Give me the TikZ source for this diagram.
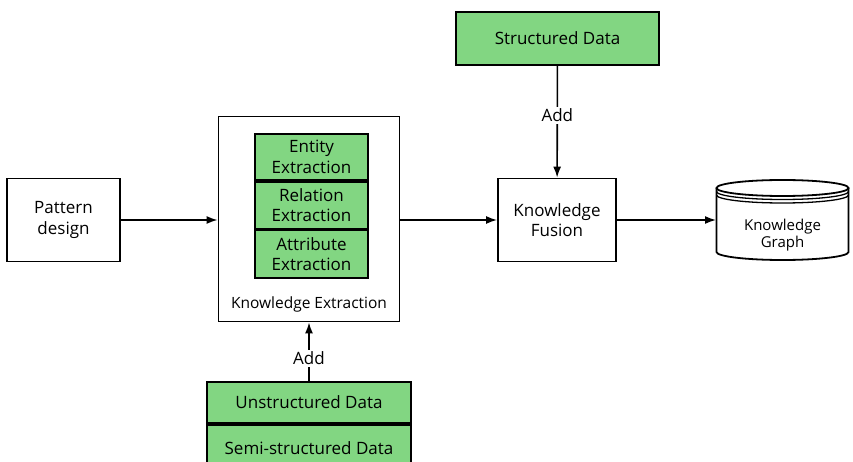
\documentclass[tikz,border=0pt]{standalone}
\usepackage{fontspec}
\setmainfont{Open Sans}
\usepackage{tikz}
\usetikzlibrary{arrows.meta,positioning,calc}
\definecolor{kgreen}{RGB}{130,214,130}
\tikzset{
  box/.style={draw,line width=1.8pt,align=center,font=\fontsize{17}{20.5}\selectfont,inner sep=0pt},
  gbox/.style={box,fill=kgreen},
  arr/.style={-{Latex[length=11pt,width=8pt]},line width=1.6pt},
  lbl/.style={font=\fontsize{17}{20}\selectfont,fill=white,inner sep=2pt},
}
\begin{document}
\begin{tikzpicture}[x=1pt,y=-1pt]
  \useasboundingbox (0,0) rectangle (853,462);
  % boxes
  \node[box,minimum width=113,minimum height=83] (pattern) at (63.5,220) {Pattern\\design};
  \node[box,minimum width=181,minimum height=205] (extract) at (309,219) {};
  \node[font=\fontsize{15.5}{18}\selectfont] (extractlbl) at (309,304) {Knowledge Extraction};
  \node[gbox,minimum width=113,minimum height=46] (entity) at (311.5,157) {Entity\\Extraction};
  \node[gbox,minimum width=113,minimum height=47,below=0pt of entity] (relation) {Relation\\Extraction};
  \node[gbox,minimum width=113,minimum height=47,below=0pt of relation] (attribute) {Attribute\\Extraction};
  \node[box,minimum width=118,minimum height=83] (fusion) at (557,220) {Knowledge\\Fusion};
  \node[gbox,minimum width=203,minimum height=53] (structured) at (557.5,38.5) {Structured Data};
  \node[gbox,minimum width=204,minimum height=41,anchor=north] (unstructured) at (309,381) {Unstructured Data};
  \node[gbox,minimum width=204,minimum height=46,below=0pt of unstructured] (semi) {Semi-structured Data};
  % knowledge graph store
  \coordinate (kg) at (782.5,188);
  \begin{scope}[line width=1.8pt]
    \draw[fill=white] ($(kg)+(-66,0)$) -- ($(kg)+(-66,64)$) arc[start angle=180,end angle=0,x radius=66,y radius=8]
      -- ($(kg)+(66,0)$);
    \draw[fill=white] (kg) ellipse[x radius=66,y radius=8];
    \draw[line width=1.3pt] ($(kg)+(-66,3.5)$) arc[start angle=180,end angle=0,x radius=66,y radius=8];
    \draw[line width=1.3pt] ($(kg)+(-66,7)$) arc[start angle=180,end angle=0,x radius=66,y radius=8];
  \end{scope}
  \node[font=\fontsize{15}{16.5}\selectfont,align=center] (graph) at (782.5,235) {Knowledge\\Graph};
  \coordinate (graphin) at (716,220);
  % connectors
  \draw[arr] (pattern.east) -- (extract.west |- pattern.east);
  \draw[arr] (extract.east |- fusion.west) -- (fusion.west);
  \draw[arr] (fusion.east) -- (graphin);
  \draw[arr] (structured) -- node[lbl,pos=0.44] (addtop) {Add} (fusion);
  \draw[arr] (unstructured.north) -- node[lbl,pos=0.39] (addbot) {Add} (extract.south);
\end{tikzpicture}
\end{document}
